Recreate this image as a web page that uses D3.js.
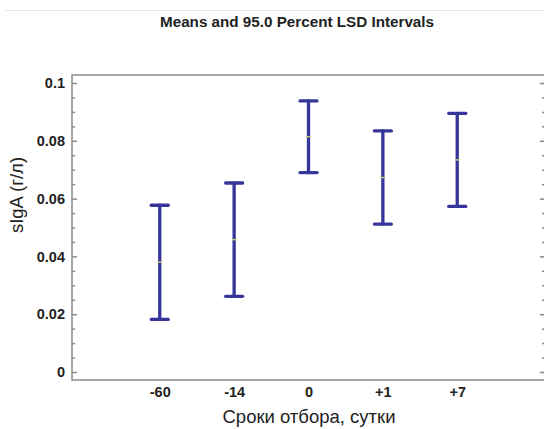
<!DOCTYPE html>
<html>
<head>
<meta charset="utf-8">
<script src="https://cdn.jsdelivr.net/npm/d3@7"></script>
<style>
  html, body { margin: 0; padding: 0; background: #fff; }
  svg { display: block; }
</style>
</head>
<body>
<svg id="chart" width="544" height="429"></svg>
<script>
const categories = ["-60", "-14", "0", "+1", "+7"];
const means = [0.038, 0.0458, 0.0814, 0.0673, 0.0734];
const lower = [0.0182, 0.0262, 0.0690, 0.0512, 0.0573];
const upper = [0.0577, 0.0654, 0.0938, 0.0834, 0.0895];
const yTicks = [0, 0.02, 0.04, 0.06, 0.08, 0.1];
const yTickLabels = ["0", "0.02", "0.04", "0.06", "0.08", "0.1"];
const titleText = "Means and 95.0 Percent LSD Intervals";
const xTitle = "Сроки отбора, сутки";
const yTitle = "sIgA (г/л)";

const svg = d3.select("#chart");
const L = 72, R = 545, T = 75, B = 380;
const FONT = "Liberation Sans, Arial, sans-serif";

const x = d3.scalePoint().domain(categories).range([L, R]).padding(1.18);
const y = d3.scaleLinear().domain([0, 0.1]).range([372, 83]);

// top separator line
svg.append("line").attr("x1", 5).attr("x2", 544).attr("y1", 10.5).attr("y2", 10.5)
  .attr("stroke", "#ebe7d6").attr("stroke-width", 1.2);

// title
svg.append("text").attr("x", 297).attr("y", 27).attr("text-anchor", "middle")
  .attr("font-family", FONT).attr("font-weight", "bold")
  .attr("font-size", 14.5).attr("textLength", 274).attr("lengthAdjust", "spacingAndGlyphs")
  .attr("fill", "#222").text(titleText);

// frame
svg.append("rect").attr("x", L).attr("y", T).attr("width", R - L).attr("height", B - T)
  .attr("fill", "none").attr("stroke", "#8a8a8a").attr("stroke-width", 1.5);

// y axes (left and right, ticks inward)
const minor = d3.range(0, 0.1001, 0.005).filter(v => Math.abs(Math.round(v / 0.02) * 0.02 - v) > 1e-6);
const leftMajor = d3.axisRight(y).tickValues(yTicks).tickSize(5).tickFormat("");
const leftMinor = d3.axisRight(y).tickValues(minor).tickSize(3).tickFormat("");
[leftMajor, leftMinor].forEach(ax => {
  const g = svg.append("g").attr("transform", `translate(${L},0)`).call(ax);
  g.select(".domain").remove();
  g.selectAll("line").attr("stroke", "#8a8a8a").attr("stroke-width", 1.5);
});
const rightMajor = d3.axisLeft(y).tickValues(yTicks).tickSize(5).tickFormat("");
const rightMinor = d3.axisLeft(y).tickValues(minor).tickSize(3).tickFormat("");
[rightMajor, rightMinor].forEach(ax => {
  const g = svg.append("g").attr("transform", `translate(${R},0)`).call(ax);
  g.select(".domain").remove();
  g.selectAll("line").attr("stroke", "#8a8a8a").attr("stroke-width", 1.5);
});

// y tick labels
const yl = d3.axisLeft(y).tickValues(yTicks).tickSize(0).tickPadding(0)
  .tickFormat((d, i) => yTickLabels[i]);
const ylg = svg.append("g").attr("transform", `translate(65,0)`).call(yl);
ylg.select(".domain").remove();
ylg.selectAll("text").attr("font-family", FONT)
  .attr("font-weight", "bold").attr("font-size", 14.5).attr("fill", "#222");

// x tick labels
const xl = d3.axisBottom(x).tickSize(0).tickPadding(0);
const xlg = svg.append("g").attr("transform", `translate(0,387)`).call(xl);
xlg.select(".domain").remove();
xlg.selectAll("text").attr("font-family", FONT)
  .attr("font-weight", "bold").attr("font-size", 14.5).attr("fill", "#222");

// axis titles
svg.append("text").attr("x", 309).attr("y", 423).attr("text-anchor", "middle")
  .attr("font-family", FONT).attr("font-size", 18.5)
  .attr("fill", "#222").text(xTitle);
svg.append("text").attr("transform", "translate(23,195) rotate(-90)").attr("text-anchor", "middle")
  .attr("font-family", FONT).attr("font-size", 18.5)
  .attr("fill", "#222").text(yTitle);

// error bars
const data = categories.map((c, i) => ({ c, m: means[i], lo: lower[i], hi: upper[i] }));
const col = "#35359a";
const capW = 8.5;
const g = svg.append("g").attr("stroke", col).attr("stroke-width", 3.3).attr("stroke-linecap", "round");
g.selectAll(".v").data(data).join("line")
  .attr("x1", d => x(d.c)).attr("x2", d => x(d.c))
  .attr("y1", d => y(d.hi)).attr("y2", d => y(d.lo));
g.selectAll(".t").data(data).join("line")
  .attr("x1", d => x(d.c) - capW).attr("x2", d => x(d.c) + capW)
  .attr("y1", d => y(d.hi)).attr("y2", d => y(d.hi));
g.selectAll(".b").data(data).join("line")
  .attr("x1", d => x(d.c) - capW).attr("x2", d => x(d.c) + capW)
  .attr("y1", d => y(d.lo)).attr("y2", d => y(d.lo));
svg.append("g").selectAll("line").data(data).join("line")
  .attr("x1", d => x(d.c) - 2.5).attr("x2", d => x(d.c) + 2.5)
  .attr("y1", d => y(d.m)).attr("y2", d => y(d.m))
  .attr("stroke", "#c9c77a").attr("stroke-width", 1.5);
</script>
</body>
</html>
